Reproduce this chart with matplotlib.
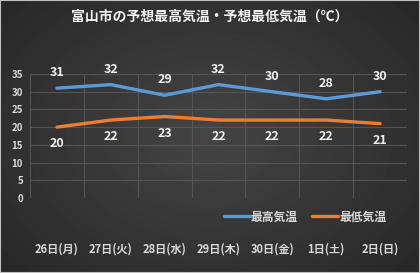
import matplotlib
matplotlib.use('Agg')
import matplotlib.pyplot as plt
import numpy as np
from matplotlib.patches import Rectangle

plt.rcParams['font.family'] = ['Noto Sans CJK JP', 'DejaVu Sans']

days = ['26日(月)', '27日(火)', '28日(水)', '29日(木)', '30日(金)', '1日(土)', '2日(日)']
high = [31, 32, 29, 32, 30, 28, 30]
low = [20, 22, 23, 22, 22, 22, 21]

fig = plt.figure(figsize=(4.2, 2.73), dpi=100)

# radial gradient background
bg = fig.add_axes([0, 0, 1, 1], zorder=-10)
yy, xx = np.mgrid[-1:1:273j, -1:1:420j]
r = np.sqrt(xx**2 + (yy * 0.9)**2)
bg.imshow(0.27 - 0.12 * np.clip(r, 0, 1.4) / 1.4, cmap='gray', vmin=0, vmax=1,
          aspect='auto', extent=[0, 1, 0, 1])
bg.set_axis_off()
fig.patches.append(Rectangle((0, 0), 1, 1, transform=fig.transFigure, fill=False,
                             edgecolor='#bfbfbf', linewidth=1.5))

ax = fig.add_axes([30/420, 1 - 198/273, 377/420, 124/273])
ax.set_facecolor('none')
x = np.arange(len(days))
ax.plot(x, high, color='#5b9bd5', lw=2.4, label='最高気温', solid_capstyle='round')
ax.plot(x, low, color='#ed7d31', lw=2.4, label='最低気温', solid_capstyle='round')

for i in x:
    ax.annotate(str(high[i]), (i, high[i]), xytext=(0, 11), textcoords='offset points',
                ha='center', va='center', color='#f2f2f2', fontsize=9, fontweight='bold')
    ax.annotate(str(low[i]), (i, low[i]), xytext=(0, -12), textcoords='offset points',
                ha='center', va='center', color='#f2f2f2', fontsize=9, fontweight='bold')

ax.set_xlim(-0.5, len(days) - 0.5)
ax.set_ylim(0, 35)
ax.set_yticks(range(0, 36, 5))
ax.set_xticks(x)
ax.set_xticklabels(days)
ax.set_xticks(np.arange(-0.5, len(days), 1), minor=True)
ax.grid(True, axis='y', color='#555555', lw=0.8)
ax.grid(True, axis='x', which='minor', color='#555555', lw=0.8)
ax.tick_params(axis='x', which='both', length=0, pad=32, colors='#d9d9d9', labelsize=8)
ax.tick_params(axis='y', length=0, pad=5, colors='#d9d9d9', labelsize=7)
for lab in ax.get_xticklabels() + ax.get_yticklabels():
    lab.set_fontweight('bold')
for s in ax.spines.values():
    s.set_visible(False)

leg = fig.legend(loc='center right', bbox_to_anchor=(0.945, 1 - 217/273), ncol=2, frameon=False,
                 fontsize=8.5, handlelength=2.2, handletextpad=0.1, columnspacing=1.2)
for t in leg.get_texts():
    t.set_color('#d9d9d9')
    t.set_fontweight('bold')

fig.text(0.5, 1 - 17/273, '富山市の予想最高気温・予想最低気温（℃）', ha='center', va='center',
         color='#f2f2f2', fontsize=10, fontweight='bold')

fig.savefig('out.png', dpi=100)
